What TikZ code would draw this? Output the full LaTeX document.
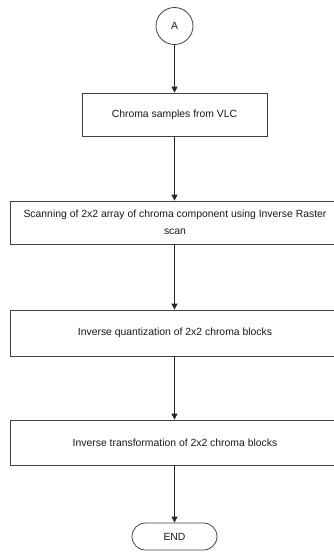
\documentclass[tikz,border=0pt]{standalone}
\usepackage{fontspec}
\setmainfont{Liberation Sans}
\usetikzlibrary{arrows.meta,shapes.misc}
\begin{document}
\begin{tikzpicture}[x=1pt,y=-1pt,
  every node/.style={font=\fontsize{10.4}{17.5}\selectfont, text=black!90, inner sep=0pt},
  stepbox/.style={draw=black!75, line width=0.8pt, rectangle, align=center},
  flow/.style={draw=black!85, line width=0.8pt, -{Triangle[length=6pt,width=6pt]}}
]
\useasboundingbox (0,0) rectangle (334,552);
\clip (0,0) rectangle (334,552);
\node[draw=black!75, line width=0.8pt, circle, minimum size=37pt] (a) at (174.5,26) {A};
\node[stepbox, minimum width=185pt, minimum height=43pt] (b1) at (174.5,114.5) {Chroma samples from VLC};
\node[stepbox, minimum width=330pt, minimum height=43pt] (b2) at (175,222.5) {Scanning of 2x2 array of chroma component using Inverse Raster\\scan};
\node[stepbox, minimum width=330pt, minimum height=46pt] (b3) at (175,333) {Inverse quantization of 2x2 chroma blocks};
\node[stepbox, minimum width=330pt, minimum height=45pt] (b4) at (175,442.5) {Inverse transformation of 2x2 chroma blocks};
\node[draw=black!75, line width=0.8pt, rounded rectangle, minimum width=85pt, minimum height=27pt] (e) at (174.5,536.5) {END};
\draw[flow] (a) -- (b1);
\draw[flow] (b1.south -| a) -- (b2.north -| a);
\draw[flow] (b2.south -| a) -- (b3.north -| a);
\draw[flow] (b3.south -| a) -- (b4.north -| a);
\draw[flow] (b4.south -| a) -- (e);
\end{tikzpicture}
\end{document}
